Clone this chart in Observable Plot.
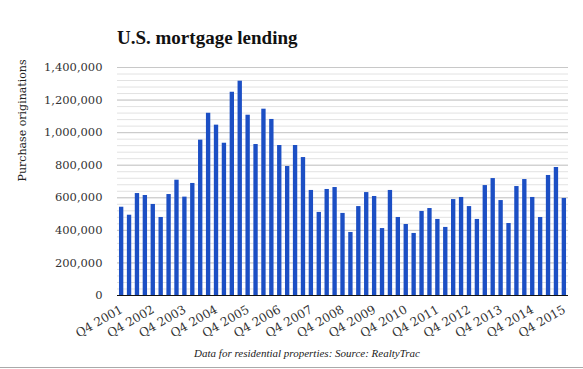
<!DOCTYPE html>
<html><head><meta charset="utf-8">
<script src="https://cdn.jsdelivr.net/npm/d3@7"></script>
<script src="https://cdn.jsdelivr.net/npm/@observablehq/plot@0.6"></script>
<style>
body{margin:0;background:#fff;}
#wrap{position:relative;width:583px;height:369px;overflow:hidden;background:#fff;}
#title{position:absolute;left:117px;top:27px;font-family:"Liberation Serif",serif;font-weight:bold;font-size:19px;color:#111;white-space:nowrap;}
#chart{position:absolute;left:0;top:0;}
#chart svg text{font-family:"DejaVu Serif",serif;}
#caption{position:absolute;left:0;width:614px;top:347px;text-align:center;font-family:"Liberation Serif",serif;font-style:italic;font-size:11px;color:#222;}
#rule{position:absolute;left:0;right:0;top:367px;border-top:1px solid #aaa;}
</style></head>
<body>
<div id="wrap">
  <div id="chart"></div>
  <div id="title">U.S. mortgage lending</div>
  <div id="caption">Data for residential properties: Source: RealtyTrac</div>
  <div id="rule"></div>
</div>
<script>
const quarters = [
  "Q4 2001",
  "Q1 2002","Q2 2002","Q3 2002","Q4 2002",
  "Q1 2003","Q2 2003","Q3 2003","Q4 2003",
  "Q1 2004","Q2 2004","Q3 2004","Q4 2004",
  "Q1 2005","Q2 2005","Q3 2005","Q4 2005",
  "Q1 2006","Q2 2006","Q3 2006","Q4 2006",
  "Q1 2007","Q2 2007","Q3 2007","Q4 2007",
  "Q1 2008","Q2 2008","Q3 2008","Q4 2008",
  "Q1 2009","Q2 2009","Q3 2009","Q4 2009",
  "Q1 2010","Q2 2010","Q3 2010","Q4 2010",
  "Q1 2011","Q2 2011","Q3 2011","Q4 2011",
  "Q1 2012","Q2 2012","Q3 2012","Q4 2012",
  "Q1 2013","Q2 2013","Q3 2013","Q4 2013",
  "Q1 2014","Q2 2014","Q3 2014","Q4 2014",
  "Q1 2015","Q2 2015","Q3 2015","Q4 2015"
];
const originations = [
  542000,
  493000, 626000, 614000, 559000,
  479000, 620000, 708000, 604000,
  688000, 954000, 1119000, 1046000,
  935000, 1248000, 1316000, 1107000,
  927000, 1144000, 1081000, 921000,
  792000, 921000, 847000, 645000,
  510000, 651000, 663000, 504000,
  387000, 546000, 632000, 608000,
  411000, 645000, 479000, 436000,
  381000, 516000, 534000, 467000,
  418000, 589000, 602000, 546000,
  467000, 675000, 718000, 583000,
  442000, 669000, 712000, 602000,
  479000, 737000, 786000, 596000
];
const xTickLabels = ["Q4 2001","Q4 2002","Q4 2003","Q4 2004","Q4 2005","Q4 2006","Q4 2007","Q4 2008","Q4 2009","Q4 2010","Q4 2011","Q4 2012","Q4 2013","Q4 2014","Q4 2015"];
const yTicks = [0, 200000, 400000, 600000, 800000, 1000000, 1200000, 1400000];
const yLabel = "Purchase originations";

const data = quarters.map((q, i) => ({q, v: originations[i]}));
const minorGrid = d3.range(0, 1400001, 40000);

const chart = Plot.plot({
  width: 583, height: 345,
  marginLeft: 117, marginRight: 15, marginTop: 67, marginBottom: 50,
  style: {fontFamily: "'DejaVu Serif', serif", fontSize: "11.5px", color: "#333", background: "transparent", overflow: "visible"},
  x: {type: "band", domain: quarters, paddingInner: 0.45, paddingOuter: 0.25, axis: null},
  y: {domain: [0, 1400000], axis: null},
  marks: [
    Plot.ruleY(minorGrid, {stroke: "#e2e2e2", strokeWidth: 1}),
    Plot.ruleY(yTicks, {stroke: "#c8c8c8", strokeWidth: 1}),
    Plot.barY(data, {x: "q", y: "v", fill: "#1c4fc4"}),
    Plot.ruleY([0], {stroke: "#111", strokeWidth: 1.2}),
    Plot.axisY(yTicks, {tickSize: 0, tickPadding: 15, tickFormat: d3.format(","), label: null, fill: "#333", fontSize: 11.5}),
    Plot.axisX(xTickLabels, {tickSize: 0, tickRotate: -30, tickPadding: 13, label: null, fill: "#333", fontSize: 12}),
    Plot.text([yLabel], {frameAnchor: "left", dx: -95, rotate: -90, fontSize: 11, fill: "#222"})
  ]
});
document.getElementById("chart").appendChild(chart);
</script>
</body></html>
